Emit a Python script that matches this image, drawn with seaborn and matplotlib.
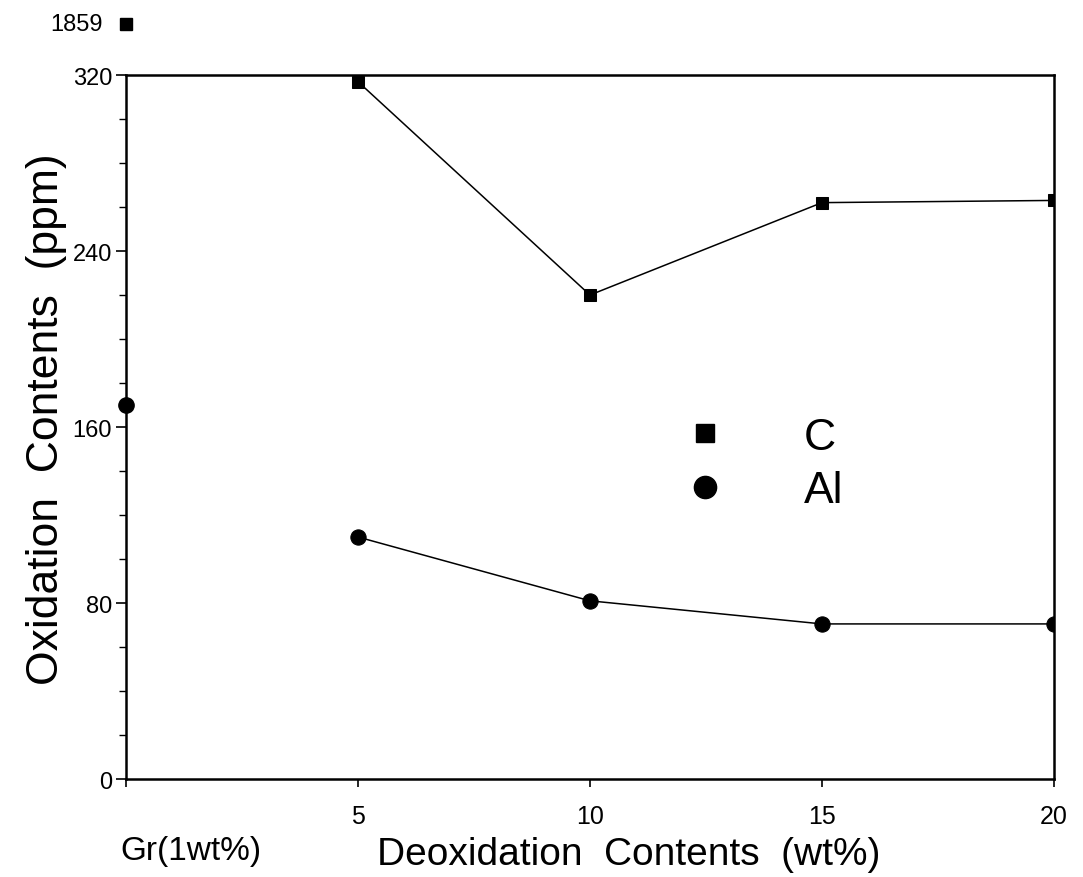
import matplotlib
matplotlib.use("Agg")
import matplotlib.pyplot as plt
from matplotlib.lines import Line2D
from matplotlib.ticker import MultipleLocator
import numpy as np
import pandas as pd
import seaborn as sns

# Deoxidizer addition (wt%) and resulting oxygen content (ppm)
deox_wt = [5, 10, 15, 20]
oxygen_c = [317, 220, 262, 263]
oxygen_al = [110, 81, 70.5, 70.5]

# Reference melt with graphite (1 wt%), plotted at x = 0
gr_x = 0
gr_al = 170
gr_c_label = "1859"

x_ticks = [0, 5, 10, 15, 20]
x_tick_labels = ["", "5", "10", "15", "20"]
y_ticks = [0, 80, 160, 240, 320]

sns.set_theme(style="ticks")
plt.rcParams["font.family"] = ["Liberation Sans", "DejaVu Sans"]
plt.rcParams["text.color"] = "black"

fig = plt.figure(figsize=(10.83, 8.78), dpi=100)
ax = fig.add_axes([0.1163, 0.1116, 0.9732 - 0.1163, 0.9134 - 0.1116])

df = pd.DataFrame({
    "x": deox_wt * 2,
    "y": oxygen_c + oxygen_al,
    "el": ["C"] * len(deox_wt) + ["Al"] * len(deox_wt),
})

sns.lineplot(data=df[df.el == "C"], x="x", y="y", ax=ax, color="black",
             linewidth=1.1, marker="s", markersize=9, markeredgecolor="black",
             markerfacecolor="black", legend=False)
sns.lineplot(data=df[df.el == "Al"], x="x", y="y", ax=ax, color="black",
             linewidth=1.1, marker="o", markersize=11, markeredgecolor="black",
             markerfacecolor="black", legend=False)

# Graphite reference: Al-type circle on scale, C value off scale above the frame
ax.plot([gr_x], [gr_al], marker="o", markersize=11, color="black",
        linestyle="none", clip_on=False, zorder=5)
ax.plot([gr_x], [1.0724], marker="s", markersize=8, color="black",
        linestyle="none", transform=ax.get_xaxis_transform(), clip_on=False)
ax.text(-0.025, 1.0724, gr_c_label, transform=ax.transAxes, ha="right",
        va="center", fontsize=17, color="black")

ax.set_xlim(0, 20)
ax.set_ylim(0, 320)
ax.set_xticks(x_ticks)
ax.set_xticklabels(x_tick_labels)
ax.set_yticks(y_ticks)
ax.yaxis.set_minor_locator(MultipleLocator(20))
ax.tick_params(axis="x", direction="out", length=6, width=1.2, pad=12,
               labelsize=18, colors="black")
ax.tick_params(axis="y", which="major", direction="out", length=7, width=1.2,
               pad=3, labelsize=17, colors="black")
ax.tick_params(axis="y", which="minor", direction="out", length=5, width=1.0,
               colors="black")

for side in ["left", "right", "top", "bottom"]:
    ax.spines[side].set_visible(True)
    ax.spines[side].set_color("black")
    ax.spines[side].set_linewidth(1.8)

ax.set_xlabel("Deoxidation  Contents  (wt%)", fontsize=28, color="black")
ax.xaxis.label.set_va("center")
ax.xaxis.set_label_coords(0.542, -0.1065)
ax.set_ylabel("Oxidation  Contents  (ppm)", fontsize=32, color="black")
ax.yaxis.label.set_va("center")
ax.yaxis.set_label_coords(-0.0860, 0.512)
ax.text(191 / 1083, 1 - 852 / 878, "Gr(1wt%)", transform=fig.transFigure,
        ha="center", va="center", fontsize=24, color="black")

handles = [
    Line2D([], [], marker="s", color="black", linestyle="none", markersize=13),
    Line2D([], [], marker="o", color="black", linestyle="none", markersize=16),
]
ax.legend(handles, ["C", "Al"], loc="upper left",
          bbox_to_anchor=(684 / 1083, 1 - 418 / 878),
          bbox_transform=fig.transFigure, frameon=False, fontsize=32,
          labelcolor="black",
          handlelength=0.95, handletextpad=1.75, labelspacing=0.28,
          borderpad=0, borderaxespad=0)

ax.grid(False)
fig.savefig("out.png", dpi=100, facecolor="white")
